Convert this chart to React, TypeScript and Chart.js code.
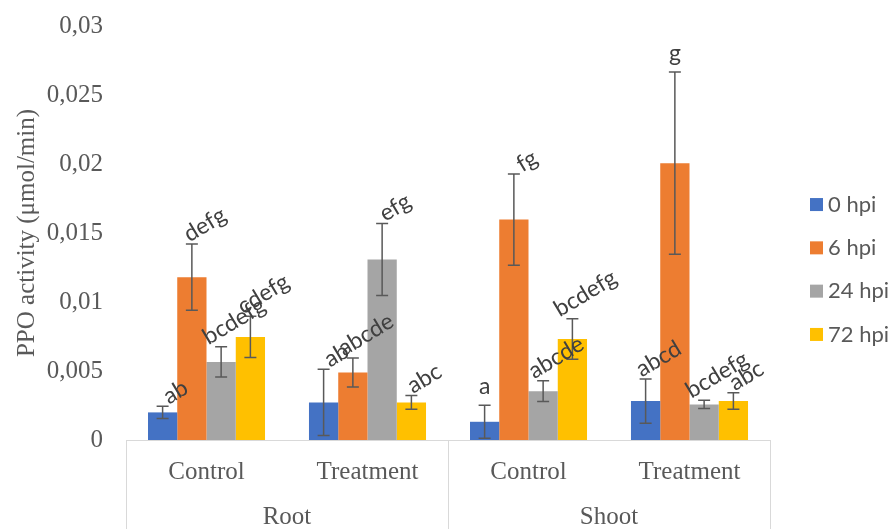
import React, { useEffect, useRef } from 'react';
import { Chart, registerables } from 'chart.js';

Chart.register(...registerables);

const categories = ['Control', 'Treatment', 'Control', 'Treatment'];
const groups = ['Root', 'Shoot'];
const seriesNames = ['0 hpi', '6 hpi', '24 hpi', '72 hpi'];
const seriesColors = ['#4472C4', '#ED7D31', '#A5A5A5', '#FFC000'];

const hpi0 = [0.002, 0.00272, 0.00132, 0.00282];
const hpi6 = [0.0118, 0.00489, 0.01597, 0.02006];
const hpi24 = [0.00566, 0.01308, 0.00354, 0.00258];
const hpi72 = [0.00747, 0.00272, 0.00732, 0.00282];

const err0 = [0.00045, 0.0024, 0.0012, 0.0016];
const err6 = [0.0024, 0.00105, 0.0033, 0.0066];
const err24 = [0.0011, 0.0026, 0.00075, 0.0003];
const err72 = [0.0015, 0.0005, 0.00146, 0.0006];

const letters0 = ['ab', 'ab', 'a', 'abcd'];
const letters6 = ['defg', 'abcde', 'fg', 'g'];
const letters24 = ['bcdefg', 'efg', 'abcde', 'bcdefg'];
const letters72 = ['cdefg', 'abc', 'bcdefg', 'abc'];

const yTickLabels = ['0', '0,005', '0,01', '0,015', '0,02', '0,025', '0,03'];
const yTitle = 'PPO activity (\u03BCmol/min)';

const seriesValues = [hpi0, hpi6, hpi24, hpi72];
const seriesErrors = [err0, err6, err24, err72];
const seriesLetters = [letters0, letters6, letters24, letters72];

const SERIF = '"Liberation Serif", "Times New Roman", serif';
const SANS = 'Lato, "Open Sans", sans-serif';
const TEXT = '#595959';
const LINE = '#D9D9D9';

const errorBarPlugin = {
  id: 'errorBars',
  afterDatasetsDraw(chart: any) {
    const ctx = chart.ctx;
    const yScale = chart.scales.y;
    ctx.save();
    ctx.strokeStyle = '#595959';
    ctx.lineWidth = 1.5;
    chart.data.datasets.forEach((ds: any, di: number) => {
      const meta = chart.getDatasetMeta(di);
      meta.data.forEach((el: any, j: number) => {
        const v = ds.data[j];
        const e = ds.errors[j];
        const top = yScale.getPixelForValue(v + e);
        const bot = yScale.getPixelForValue(Math.max(0, v - e));
        const x = el.x;
        ctx.beginPath();
        ctx.moveTo(x, top);
        ctx.lineTo(x, bot);
        ctx.moveTo(x - 6, top);
        ctx.lineTo(x + 6, top);
        ctx.moveTo(x - 6, bot);
        ctx.lineTo(x + 6, bot);
        ctx.stroke();
      });
    });
    ctx.restore();
  },
};

const lettersPlugin = {
  id: 'letters',
  afterDatasetsDraw(chart: any) {
    const ctx = chart.ctx;
    const yScale = chart.scales.y;
    const th = (31 * Math.PI) / 180;
    ctx.save();
    ctx.fillStyle = '#404040';
    ctx.font = '23px ' + SANS;
    chart.data.datasets.forEach((ds: any, di: number) => {
      const meta = chart.getDatasetMeta(di);
      meta.data.forEach((el: any, j: number) => {
        const txt = ds.letters[j];
        const top = yScale.getPixelForValue(ds.data[j] + ds.errors[j]);
        if (txt.length === 1) {
          ctx.textAlign = 'center';
          ctx.textBaseline = 'bottom';
          ctx.fillText(txt, el.x, top - 7);
        } else {
          const w = ctx.measureText(txt).width;
          const hh = (w * Math.sin(th) + 16 * Math.cos(th)) / 2;
          ctx.save();
          ctx.translate(el.x + 13, top - 1 - hh);
          ctx.rotate(-th);
          ctx.textAlign = 'center';
          ctx.textBaseline = 'middle';
          ctx.fillText(txt, 0, 0);
          ctx.restore();
        }
      });
    });
    ctx.restore();
  },
};

const axisBoxPlugin = {
  id: 'axisBox',
  afterDraw(chart: any) {
    const ctx = chart.ctx;
    const area = chart.chartArea;
    const xScale = chart.scales.x;
    const bottom = chart.height;
    const mid = (xScale.getPixelForValue(1) + xScale.getPixelForValue(2)) / 2;
    ctx.save();
    ctx.strokeStyle = LINE;
    ctx.lineWidth = 1;
    [area.left, mid, area.right].forEach((x: number) => {
      const xx = Math.round(x) + 0.5;
      ctx.beginPath();
      ctx.moveTo(xx, area.bottom);
      ctx.lineTo(xx, bottom);
      ctx.stroke();
    });
    ctx.fillStyle = TEXT;
    ctx.font = '25px ' + SERIF;
    ctx.textAlign = 'center';
    ctx.textBaseline = 'middle';
    const centers = [(area.left + mid) / 2, (mid + area.right) / 2];
    groups.forEach((g, i) => ctx.fillText(g, centers[i], area.bottom + 77));
    ctx.restore();
  },
};

const legendPlugin = {
  id: 'customLegend',
  afterDraw(chart: any) {
    const ctx = chart.ctx;
    const area = chart.chartArea;
    const step = 43.3;
    const y0 = chart.height / 2 + 5 - 1.5 * step;
    const x0 = area.right + 40;
    ctx.save();
    ctx.font = '22px ' + SANS;
    ctx.textAlign = 'left';
    ctx.textBaseline = 'middle';
    seriesNames.forEach((name, i) => {
      const yc = y0 + i * step;
      ctx.fillStyle = seriesColors[i];
      ctx.fillRect(x0, yc - 6.5, 13, 13);
      ctx.fillStyle = TEXT;
      ctx.fillText(name, x0 + 18, yc);
    });
    ctx.restore();
  },
};

export default function App() {
  const ref = useRef<HTMLCanvasElement | null>(null);

  useEffect(() => {
    if (!ref.current) return;
    const chart = new Chart(ref.current, {
      type: 'bar',
      data: {
        labels: categories,
        datasets: seriesNames.map((name, i) => ({
          label: name,
          data: seriesValues[i],
          errors: seriesErrors[i],
          letters: seriesLetters[i],
          backgroundColor: seriesColors[i],
          borderWidth: 0,
          barPercentage: 1,
          categoryPercentage: 0.727,
        })) as any,
      },
      options: {
        animation: false,
        responsive: true,
        maintainAspectRatio: false,
        layout: { padding: { top: 26, right: 118, left: 0, bottom: 0 } },
        plugins: {
          legend: { display: false },
          tooltip: { enabled: false },
        },
        scales: {
          x: {
            grid: { display: false, drawTicks: false },
            border: { display: true, color: LINE, width: 1 },
            ticks: {
              font: { family: SERIF, size: 25 },
              color: TEXT,
              padding: 17,
              maxRotation: 0,
            },
            afterFit(scale: any) {
              scale.height = 89;
            },
          },
          y: {
            min: 0,
            max: 0.03,
            grid: { display: false, drawTicks: false },
            border: { display: false },
            ticks: {
              stepSize: 0.005,
              font: { family: SERIF, size: 25 },
              color: TEXT,
              padding: 23,
              callback: (_v: any, i: number) => yTickLabels[i],
            },
            title: {
              display: true,
              text: yTitle,
              font: { family: SERIF, size: 25 },
              color: TEXT,
              padding: { top: 12, bottom: 0 },
            },
            afterFit(scale: any) {
              scale.width = 126;
              scale.paddingTop = 12;
              scale.paddingBottom = 12;
            },
          },
        },
      },
      plugins: [errorBarPlugin, lettersPlugin, axisBoxPlugin, legendPlugin],
    } as any);
    return () => chart.destroy();
  }, []);

  return (
    <div style={{ position: 'fixed', left: 0, top: 0, width: 888, height: 529 }}>
      <canvas ref={ref} />
    </div>
  );
}
